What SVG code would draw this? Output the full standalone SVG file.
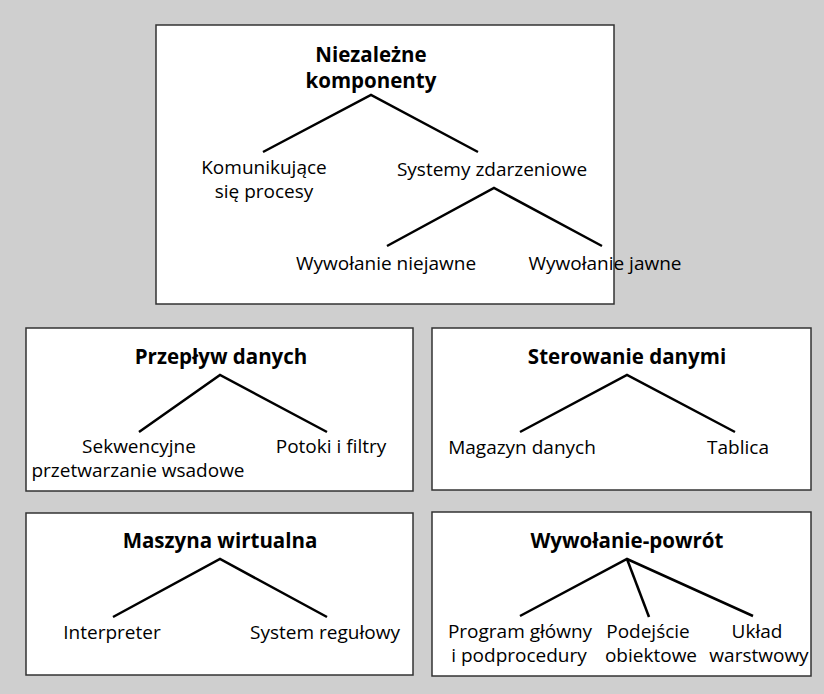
<svg xmlns="http://www.w3.org/2000/svg" width="824" height="694" viewBox="0 0 824 694">
<style>
.box{fill:#fff;stroke:#333;stroke-width:1.5}
.t{font-family:"Open Sans","Liberation Sans",sans-serif;font-size:19px;fill:#000;text-anchor:middle}
.h{font-family:"Open Sans","Liberation Sans",sans-serif;font-size:20.5px;font-weight:bold;fill:#000;text-anchor:middle}
.c{stroke:#000;stroke-width:2.5;fill:none;stroke-linejoin:miter}
</style>
<rect x="0" y="0" width="824" height="694" fill="#cfcfcf"/>
<g id="box-niezalezne">
<rect class="box" x="156" y="25" width="458" height="279"/>
<text class="h" x="371" y="62">Niezależne</text>
<text class="h" x="371" y="88">komponenty</text>
<text class="t" x="264" y="174">Komunikujące</text>
<text class="t" x="264" y="198">się procesy</text>
<text class="t" x="492" y="176">Systemy zdarzeniowe</text>
<text class="t" x="386" y="270">Wywołanie niejawne</text>
<text class="t" x="605" y="270">Wywołanie jawne</text>
</g>
<g id="box-przeplyw">
<rect class="box" x="26" y="328" width="387" height="163"/>
<text class="h" x="221" y="364">Przepływ danych</text>
<text class="t" x="139" y="453">Sekwencyjne</text>
<text class="t" x="138" y="477">przetwarzanie wsadowe</text>
<text class="t" x="331" y="453">Potoki i filtry</text>
</g>
<g id="box-sterowanie">
<rect class="box" x="432" y="328" width="379" height="162"/>
<text class="h" x="627" y="364">Sterowanie danymi</text>
<text class="t" x="522" y="454">Magazyn danych</text>
<text class="t" x="738" y="454">Tablica</text>
</g>
<g id="box-maszyna">
<rect class="box" x="26" y="513" width="387" height="162"/>
<text class="h" x="220" y="548">Maszyna wirtualna</text>
<text class="t" x="112" y="639">Interpreter</text>
<text class="t" x="325" y="639">System regułowy</text>
</g>
<g id="box-wywolanie">
<rect class="box" x="432" y="512" width="379" height="164"/>
<text class="h" x="627" y="548">Wywołanie-powrót</text>
<text class="t" x="520" y="638">Program główny</text>
<text class="t" x="519" y="662">i podprocedury</text>
<text class="t" x="648" y="638">Podejście</text>
<text class="t" x="651" y="662">obiektowe</text>
<text class="t" x="757" y="638">Układ</text>
<text class="t" x="759" y="662">warstwowy</text>
</g>
<g id="connectors">
<polyline class="c" points="263,152 371,95 478,152"/>
<polyline class="c" points="387,246 494,188 602,246"/>
<polyline class="c" points="139,432 220,375 327,432"/>
<polyline class="c" points="520,432 627,375 735,432"/>
<polyline class="c" points="113,617 220,559 327,617"/>
<polyline class="c" points="520,616 627,559 753,616"/>
<line class="c" x1="627" y1="559" x2="649" y2="617"/>
</g>
</svg>
